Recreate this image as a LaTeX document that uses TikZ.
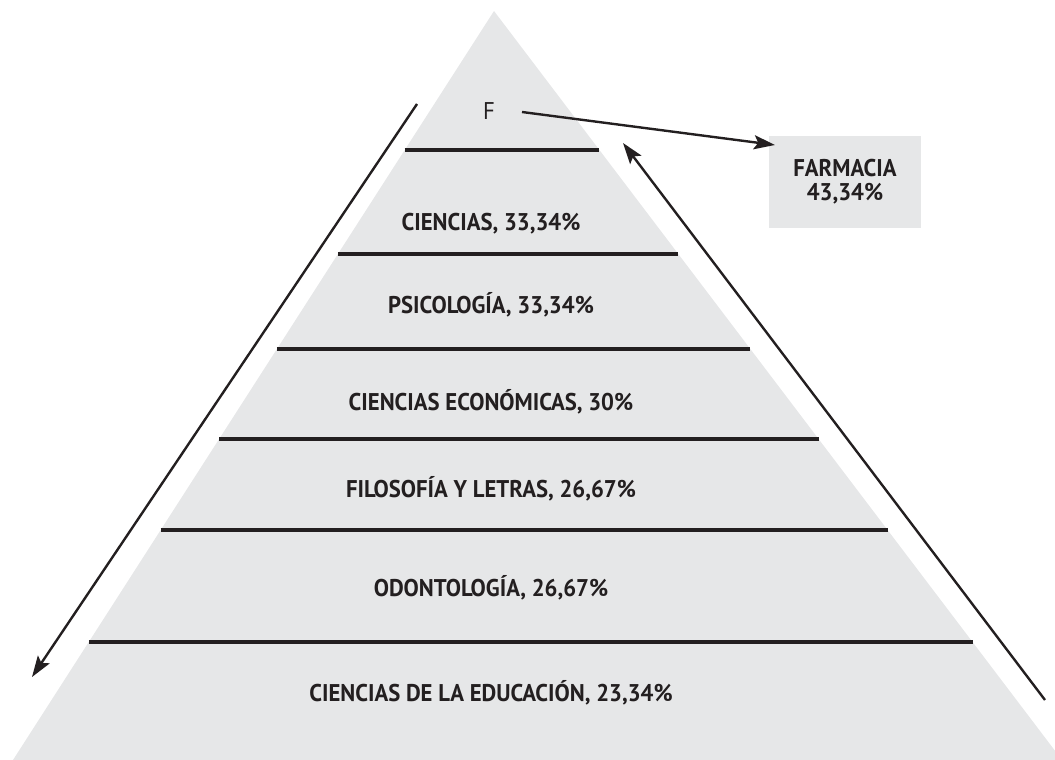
\documentclass[tikz,border=0pt]{standalone}
\usepackage{fontspec}
\setmainfont{PT Sans}[FakeStretch=0.94]
\usetikzlibrary{arrows.meta,calc}
\definecolor{pyrGray}{HTML}{E6E7E8}
\definecolor{inkGray}{HTML}{231F20}

\begin{document}
\begin{tikzpicture}
[x=0.025cm,y=-0.025cm,%
  levelLine/.style={draw=inkGray,line width=2.2pt},%
  sideArrow/.style={draw=inkGray,line width=1.7pt,-{Stealth[length=15pt,width=10pt,inset=3pt]}},%
  levelText/.style={anchor=base,text=inkGray,font=\fontsize{17.2}{20}\selectfont\bfseries,inner sep=0pt}]
\useasboundingbox (0,0) rectangle (1055,760);
%% pyramid
\coordinate (apex) at (494,11);
\coordinate (baseL) at (13,760);
\coordinate (baseR) at (1062,760);
\begin{scope}
\clip (0,0) rectangle (1055,760);
\fill[pyrGray] (apex) -- (baseL) -- (baseR) -- cycle;
\end{scope}
%% level lines
\foreach \t in {0.1856, 0.3244, 0.4513, 0.5714, 0.6929, 0.8425}
{
  \draw[levelLine] ($(apex)!\t!(baseL)$) -- ($(apex)!\t!(baseR)$);
}
%% level labels
\foreach \levelname/\y/\txt in {
  cien/231/{CIENCIAS, 33,34\%},
  psic/314/{PSICOLOGÍA, 33,34\%},
  econ/411/{CIENCIAS ECONÓMICAS, 30\%},
  filo/498/{FILOSOFÍA Y LETRAS, 26,67\%},
  odon/597/{ODONTOLOGÍA, 26,67\%},
  educ/702/{CIENCIAS DE LA EDUCACIÓN, 23,34\%}}
{
  \node (\levelname) at (491,\y) [levelText] {\txt};
}
\node (top) at (489,120) [levelText,font=\fontsize{17.2}{20}\selectfont] {F};
%% farmacia box
\node (farm) at (845,182) [fill=pyrGray,minimum width=152*0.025cm,minimum height=92*0.025cm,
  text=inkGray,font=\fontsize{17.2}{20}\selectfont\bfseries,align=center,inner sep=0pt] {FARMACIA\\[-3pt]43,34\%};
%% arrows
\coordinate (fstart) at (522,112);
\coordinate (ftip) at (775,145);
\draw[sideArrow] (fstart) -- (ftip);
\coordinate (ltop) at (417,104);
\coordinate (lbot) at (32,677);
\draw[sideArrow] (ltop) -- (lbot);
\coordinate (rbot) at (1045,700);
\coordinate (rtop) at (623,143);
\draw[sideArrow] (rbot) -- (rtop);
\end{tikzpicture}
\end{document}
